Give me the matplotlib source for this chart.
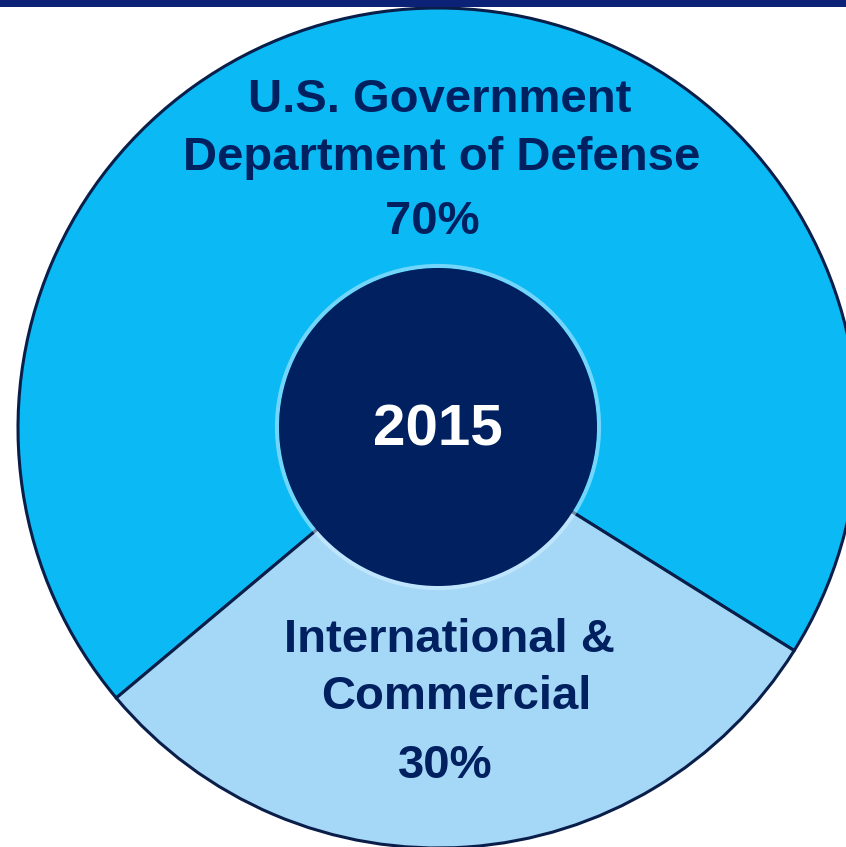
import matplotlib.pyplot as plt
from matplotlib.patches import Circle, Rectangle

plt.rcParams['font.family'] = ['Liberation Sans', 'DejaVu Sans']

segments = ['U.S. Government\nDepartment of Defense', 'International &\nCommercial']
shares = [70, 30]
year = '2015'

colors = ['#0BB9F5', '#A5D7F7']
navy = '#002060'

fig = plt.figure(figsize=(8.46, 8.47), dpi=100)
ax = fig.add_axes([0, 0, 1, 1])

cx, cy, R = 438, 419, 420

wedges, _ = ax.pie(shares, colors=colors, startangle=-32, counterclock=True,
                   center=(cx, cy), radius=R, frame=True,
                   wedgeprops=dict(edgecolor='#0A1E4A', linewidth=2.2))
ax.set_xlim(0, 846)
ax.set_ylim(0, 847)
ax.set_aspect('equal')
ax.axis('off')

# soft glow around the centre disc
ax.add_patch(Circle((cx, cy + 1), 161, facecolor='none', edgecolor='#D8F4FF',
                    linewidth=3, alpha=0.5, zorder=3))
ax.add_patch(Circle((cx, cy + 1), 159, facecolor=navy, edgecolor='none', zorder=4))
ax.text(cx, cy - 2, year, ha='center', va='center', color='white',
        fontsize=42, fontweight='bold', zorder=5)

# labels
top_lines = segments[0].split('\n') + [f'{shares[0]}%']
top_y = [747, 689, 625]
top_x = [440, 442, 432]
for t, x, y in zip(top_lines, top_x, top_y):
    ax.text(x, y, t, ha='center', va='center', color=navy,
            fontsize=34, fontweight='bold', zorder=5)

bot_lines = segments[1].split('\n') + [f'{shares[1]}%']
bot_y = [207, 150, 81]
bot_x = [449, 456, 445]
for t, x, y in zip(bot_lines, bot_x, bot_y):
    ax.text(x, y, t, ha='center', va='center', color=navy,
            fontsize=34, fontweight='bold', zorder=5)

# navy strip along the top edge
ax.add_patch(Rectangle((0, 840), 846, 7, facecolor='#0B2277', edgecolor='none', zorder=6))

fig.savefig('out.png', dpi=100)
